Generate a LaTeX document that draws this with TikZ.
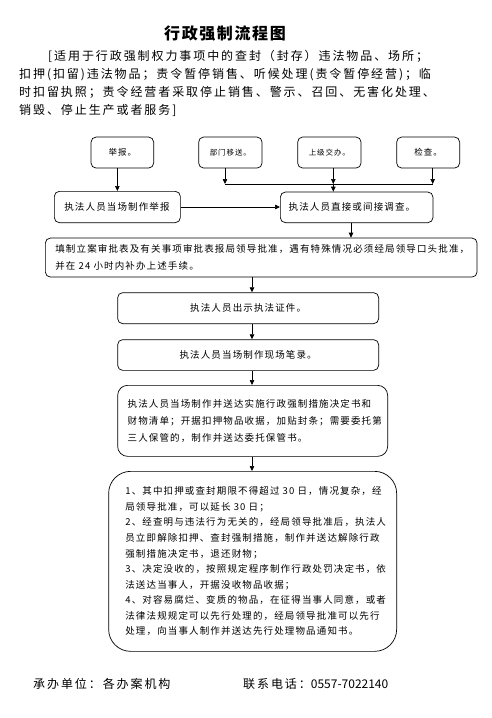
\documentclass[tikz,border=0pt]{standalone}
\usepackage{fontspec}
\setmainfont{Noto Sans CJK SC}
\newfontfamily\boxfont{Noto Sans CJK SC}[LetterSpace=12]
\newfontfamily\headfont{Noto Sans CJK SC}[LetterSpace=16]
\newfontfamily\titlefont{Noto Sans CJK SC}[LetterSpace=10]
\usetikzlibrary{arrows.meta, positioning}
\tikzset{
  flowbox/.style={draw, rounded corners=5pt, line width=0.7pt, inner sep=0pt, anchor=north west},
  flowarrow/.style={-{Triangle[length=5pt,width=4.5pt]}, line width=0.7pt},
  boxtext/.style={font=\boxfont\fontsize{9.5}{16.6}\selectfont},
}

\begin{document}
\begin{tikzpicture}[x=1pt, y=-1pt]
    \useasboundingbox (0,0) rectangle (492,718);

    % Title and scope
    \node (title) at (225,33) [font=\titlefont\bfseries\fontsize{16}{20}\selectfont] {行政强制流程图};
    \node (scope) at (19,50) [anchor=north west, inner sep=0pt, align=left,
        font=\headfont\fontsize{12}{18}\selectfont]
        {\hspace*{29pt}[适用于行政强制权力事项中的查封（封存）违法物品、场所；\\
         扣押(扣留)违法物品；责令暂停销售、听候处理(责令暂停经营)；临\\
         时扣留执照；责令经营者采取停止销售、警示、召回、无害化处理、\\
         销毁、停止生产或者服务]};

    % Sources
    \node (jubao) at (90.7,136.7) [flowbox, minimum width=62.6, minimum height=31,
        font=\boxfont\fontsize{8.5}{10}\selectfont] {举报。};
    \node (bumen) at (198.3,136.7) [flowbox, minimum width=63.4, minimum height=31,
        font=\boxfont\fontsize{7.5}{10}\selectfont] {部门移送。};
    \node (shangji) at (297.3,136.7) [flowbox, minimum width=63.4, minimum height=31,
        font=\boxfont\fontsize{7.5}{10}\selectfont] {上级交办。};
    \node (jiancha) at (396.3,136.7) [flowbox, minimum width=63, minimum height=31,
        font=\boxfont\fontsize{8.5}{10}\selectfont] {检查。};

    % Record and investigation
    \node (baogao) at (54,191) [flowbox, boxtext, minimum height=31.3, inner xsep=10,
        text width=106, align=left] {执法人员当场制作举报};
    \node (diaocha) at (280,191.7) [flowbox, boxtext, minimum height=30.6, inner xsep=8.3,
        text width=136, align=left] {执法人员直接或间接调查。};

    % Approval
    \node (tianzhi) at (45,237.7) [flowbox, boxtext, minimum height=39, inner xsep=10,
        text width=411.7, align=left]
        {填制立案审批表及有关事项审批表报局领导批准，遇有特殊情况必须经局领导口头批准，\\
         并在~24~小时内补办上述手续。};

    % On-site steps
    \node (chushi) at (117.3,292.3) [flowbox, boxtext, minimum width=261, minimum height=31]
        {执法人员出示执法证件。};
    \node (bilu) at (117.3,339.3) [flowbox, boxtext, minimum width=261, minimum height=30.7]
        {执法人员当场制作现场笔录。};
    \node (songda) at (117.3,385) [flowbox, boxtext, rounded corners=10pt, minimum height=71,
        inner xsep=10, text width=250, align=left,
        font=\boxfont\fontsize{9.5}{17}\selectfont]
        {执法人员当场制作并送达实施行政强制措施决定书和\\
         财物清单；开据扣押物品收据，加贴封条；需要委托第\\
         三人保管的，制作并送达委托保管书。};

    % Follow-up
    \node (houxu) at (108.3,471) [flowbox, rounded corners=22pt, minimum height=180,
        inner xsep=16.7, text width=254.6, align=left,
        font=\boxfont\fontsize{9.5}{15.56}\selectfont]
        {1、其中扣押或查封期限不得超过~30~日，情况复杂，经\\
         局领导批准，可以延长~30~日；\\
         2、经查明与违法行为无关的，经局领导批准后，执法人\\
         员立即解除扣押、查封强制措施，制作并送达解除行政\\
         强制措施决定书，退还财物；\\
         3、决定没收的，按照规定程序制作行政处罚决定书，依\\
         法送达当事人，开据没收物品收据；\\
         4、对容易腐烂、变质的物品，在征得当事人同意，或者\\
         法律法规规定可以先行处理的，经局领导批准可以先行\\
         处理，向当事人制作并送达先行处理物品通知书。};

    % Footer
    \node (chengban) at (33,684) [anchor=west, inner sep=0pt,
        font=\headfont\fontsize{12}{14}\selectfont] {承办单位：各办案机构};
    \node (dianhua) at (243,684) [anchor=west, inner sep=0pt,
        font=\headfont\fontsize{12}{14}\selectfont] {联系电话：{\rmfamily 0557-7022140}};

    % Connectors
    \coordinate (busL) at (225,184);
    \coordinate (busM) at (333.3,184);
    \coordinate (busR) at (432.7,184);
    \coordinate (drop) at (351,0);
    \coordinate (spine) at (252,0);
    \draw[line width=0.7pt] (busL) -- (busR);
    \draw[flowarrow] (busL |- bumen.south) -- (busL);
    \draw[flowarrow] (busM |- shangji.south) -- (busM);
    \draw[flowarrow] (busR |- jiancha.south) -- (busR);
    \draw[flowarrow] (busM) -- (busM |- diaocha.north);
    \draw[flowarrow] (baogao.north |- jubao.south) -- (baogao.north);
    \draw[flowarrow] (baogao.east) -- (baogao.east -| diaocha.west);
    \draw[flowarrow] (drop |- diaocha.south) -- (drop |- tianzhi.north);
    \draw[flowarrow] (spine |- tianzhi.south) -- (spine |- chushi.north);
    \draw[flowarrow] (spine |- chushi.south) -- (spine |- bilu.north);
    \draw[flowarrow] (spine |- bilu.south) -- (spine |- songda.north);
    \draw[flowarrow] (spine |- songda.south) -- (spine |- houxu.north);

\end{tikzpicture}
\end{document}
